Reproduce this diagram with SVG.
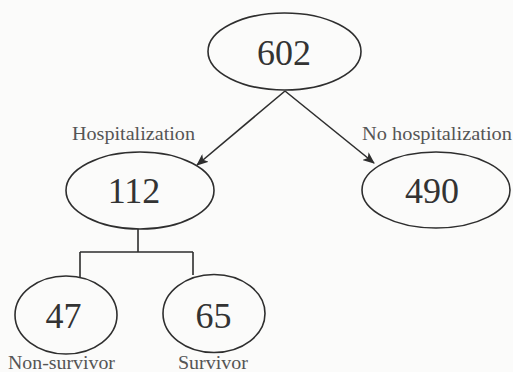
<svg xmlns="http://www.w3.org/2000/svg" width="513" height="372" viewBox="0 0 513 372">
<style>
.node ellipse{fill:none;stroke:#2e2e2e;stroke-width:1.6}
.num{font-family:"Liberation Serif",serif;font-size:36px;fill:#333;text-anchor:middle}
.lbl{font-family:"Liberation Serif",serif;font-size:18px;fill:#555}
.conn{fill:none;stroke:#2e2e2e;stroke-width:1.6}
</style>
<defs>
<marker id="arr" viewBox="0 0 12 10" refX="11" refY="5" markerWidth="12" markerHeight="10" markerUnits="userSpaceOnUse" orient="auto">
<path d="M0,0 L12,5 L0,10 L3,5 Z" fill="#2e2e2e"/>
</marker>
</defs>
<rect width="513" height="372" fill="#fbfbfa"/>
<g id="connectors">
<line class="conn" x1="285" y1="91" x2="197" y2="165" marker-end="url(#arr)"/>
<line class="conn" x1="285" y1="91" x2="374" y2="163" marker-end="url(#arr)"/>
<path class="conn" d="M138,229 V252 M80,252 H193 M80,252 V277 M193,252 V275"/>
</g>
<g id="n602" class="node">
<ellipse cx="284.5" cy="51.5" rx="76.5" ry="38.5"/>
<text class="num" x="284" y="65">602</text>
</g>
<g id="n112" class="node">
<ellipse cx="140" cy="190.5" rx="74" ry="38.5"/>
<text class="num" x="134" y="203">112</text>
<text class="lbl" x="72" y="140" textLength="123" lengthAdjust="spacingAndGlyphs">Hospitalization</text>
</g>
<g id="n490" class="node">
<ellipse cx="436" cy="190" rx="74" ry="38"/>
<text class="num" x="432" y="203">490</text>
<text class="lbl" x="362" y="140" textLength="150" lengthAdjust="spacingAndGlyphs">No hospitalization</text>
</g>
<g id="n47" class="node">
<ellipse cx="66" cy="315" rx="51" ry="39"/>
<text class="num" x="63.5" y="328">47</text>
<text class="lbl" x="8" y="369" textLength="107" lengthAdjust="spacingAndGlyphs">Non-survivor</text>
</g>
<g id="n65" class="node">
<ellipse cx="214" cy="313.5" rx="51" ry="39"/>
<text class="num" x="213.5" y="328">65</text>
<text class="lbl" x="178" y="369" textLength="70" lengthAdjust="spacingAndGlyphs">Survivor</text>
</g>
</svg>
